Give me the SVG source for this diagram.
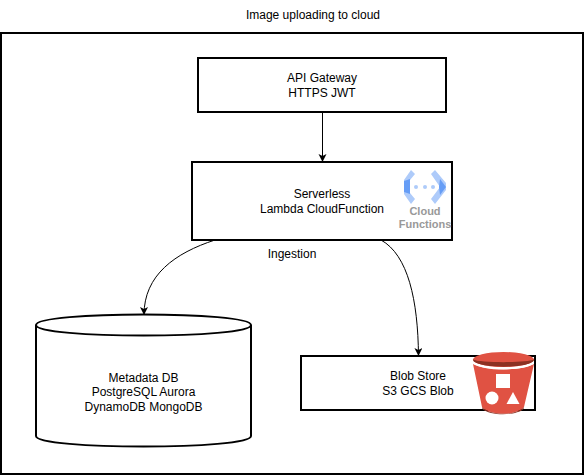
<svg xmlns="http://www.w3.org/2000/svg" width="584" height="475" viewBox="0 0 584 475">
<defs>
<style>
text{font-family:"Liberation Sans",Arial,sans-serif;font-size:12px;fill:#000;text-anchor:middle}
.box{fill:#fff;stroke:#000;stroke-width:2}
.edge{fill:none;stroke:#000;stroke-width:1}
</style>
<marker id="arrow" markerUnits="userSpaceOnUse" markerWidth="10" markerHeight="10" refX="8" refY="4" orient="auto"><path d="M0 0L8 4L0 8L2 4Z" fill="#000"/></marker>
</defs>
<rect width="584" height="475" fill="#fff"/>
<text x="313" y="19">Image uploading to cloud</text>
<rect id="frame" class="box" x="1" y="33" width="582" height="441"/>
<g id="api-gateway"><rect class="box" x="198" y="58" width="248" height="54"/><text x="322" y="82">API Gateway</text><text x="322" y="97">HTTPS JWT</text></g>
<g id="serverless"><rect class="box" x="192" y="162" width="260" height="78"/><text x="322" y="198">Serverless</text><text x="322" y="213">Lambda CloudFunction</text></g>
<g id="cloud-functions">
<path d="M411 170L415 174L410 180V193L415 199L411 204L404 194V180Z" fill="#aecbfa"/>
<path d="M435 170L431 174L440 187L431 199L435 204L446 190V183Z" fill="#aecbfa"/>
<path d="M404 181L410 179V194L404 192Z" fill="#669df6"/>
<path d="M440 179L446 187L440 195L439 187Z" fill="#669df6"/>
<circle cx="416" cy="187" r="2" fill="#aecbfa"/><circle cx="425" cy="187" r="2" fill="#aecbfa"/><circle cx="433" cy="187" r="2" fill="#aecbfa"/>
<text x="425" y="215" style="font-size:11px;font-weight:bold;fill:#999">Cloud</text>
<text x="425" y="228" style="font-size:11px;font-weight:bold;fill:#999">Functions</text>
</g>
<g id="metadata-db">
<path class="box" d="M36 325C36 311 251 311 251 325V436C251 450 36 450 36 436Z"/>
<path class="box" style="fill:none" d="M36 325C36 339 251 339 251 325"/>
<text x="143.500" y="382">Metadata DB</text><text x="143.500" y="396">PostgreSQL Aurora</text><text x="143.500" y="411">DynamoDB MongoDB</text>
</g>
<g id="blob-store"><rect class="box" x="301" y="356" width="234" height="54"/><text x="418" y="380">Blob Store</text><text x="418" y="395">S3 GCS Blob</text></g>
<g id="bucket">
<path d="M473 364C485 371 522 371 534 364L524 407C516 416 490 416 482 407Z" fill="#e05243"/>
<path d="M482 407C490 416 516 416 524 407L523.500 409C516 416 490 416 482.500 409Z" fill="#8c3123"/>
<ellipse cx="503.500" cy="359.500" rx="30.500" ry="7.500" fill="#e05243"/>
<path d="M473 359.500C480 363 527 363 534 359.500C534 369 473 369 473 359.500Z" fill="#8c3123"/>
<path d="M473.500 363C485 370.500 522 370.500 533.500 363" fill="none" stroke="#fff" stroke-width="1.500"/>
<rect x="496" y="374" width="14" height="14" fill="#fff"/>
<circle cx="492" cy="398" r="6.500" fill="#fff"/>
<path d="M513 392L519.500 404H506.500Z" fill="#fff"/>
</g>
<g id="connectors">
<path class="edge" marker-end="url(#arrow)" d="M322.500 112V162"/>
<path class="edge" marker-end="url(#arrow)" d="M215 240C175 253 144 275 144 315"/>
<path class="edge" marker-end="url(#arrow)" d="M381 240C408 255 418 300 418.500 356"/>
</g>
<text x="292" y="258">Ingestion</text>
</svg>
